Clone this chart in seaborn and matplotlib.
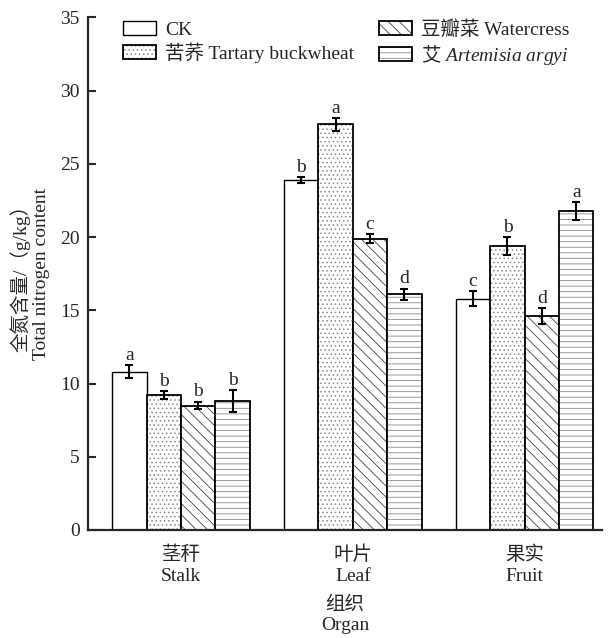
import matplotlib
matplotlib.use("Agg")
import matplotlib.pyplot as plt
from matplotlib.colors import to_rgba
import pandas as pd
import seaborn as sns

ORGANS_CN = ["茎秆", "叶片", "果实"]
ORGANS_EN = ["Stalk", "Leaf", "Fruit"]
TREATMENTS = ["CK", "苦荞 Tartary buckwheat", "豆瓣菜 Watercress",
              r"$\mathrm{艾}\ Artemisia\ argyi$"]

# mean total nitrogen (g/kg) per organ, one list per treatment
ck = [10.8, 23.9, 15.8]
buckwheat = [9.2, 27.7, 19.4]
watercress = [8.5, 19.9, 14.6]
artemisia = [8.8, 16.1, 21.8]

ck_err = [0.45, 0.2, 0.5]
buckwheat_err = [0.28, 0.42, 0.6]
watercress_err = [0.25, 0.28, 0.55]
artemisia_err = [0.75, 0.37, 0.6]

ck_sig = ["a", "b", "c"]
buckwheat_sig = ["b", "a", "b"]
watercress_sig = ["b", "c", "d"]
artemisia_sig = ["b", "d", "a"]

HATCHES = ["", "....", "\\\\\\", "---"]
HATCH_COLORS = ["black", "#8c8c8c", "#444444", "#8a8a8a"]


def build_frame():
    rows = []
    for name, vals in zip(TREATMENTS, [ck, buckwheat, watercress, artemisia]):
        for organ, v in zip(ORGANS_CN, vals):
            rows.append({"organ": organ, "treatment": name, "value": v})
    return pd.DataFrame(rows)


def main():
    sns.set_style("ticks")
    plt.rcParams["font.family"] = ["Liberation Serif", "Noto Sans CJK SC"]
    plt.rcParams["mathtext.fontset"] = "custom"
    plt.rcParams["mathtext.it"] = "Liberation Serif:italic"
    plt.rcParams["mathtext.rm"] = "Noto Sans CJK SC"
    plt.rcParams["hatch.linewidth"] = 0.6

    df = build_frame()
    fig = plt.figure(figsize=(6.09, 6.38), dpi=100)
    ax = fig.add_axes([0.1445, 0.1693, 0.844, 0.8033])

    sns.barplot(
        data=df,
        x="organ",
        y="value",
        hue="treatment",
        order=ORGANS_CN,
        hue_order=TREATMENTS,
        palette=["white"] * 4,
        saturation=1,
        errorbar=None,
        width=0.8,
        edgecolor="black",
        linewidth=1.3,
        legend=False,
        ax=ax,
    )

    errs = [ck_err, buckwheat_err, watercress_err, artemisia_err]
    sigs = [ck_sig, buckwheat_sig, watercress_sig, artemisia_sig]
    handles = []
    bar_groups = list(ax.containers)
    for i, cont in enumerate(bar_groups):
        xs, ys = [], []
        for p in cont.patches:
            p.set_hatch(HATCHES[i])
            if hasattr(p, "set_hatchcolor"):
                p.set_hatchcolor(HATCH_COLORS[i])
            p._hatch_color = to_rgba(HATCH_COLORS[i])
            if i == 0:
                p.set_linewidth(1.0)
            xs.append(p.get_x() + p.get_width() / 2)
            ys.append(p.get_height())
        handles.append(cont.patches[0])
        ax.errorbar(xs, ys, yerr=errs[i], fmt="none", ecolor="black",
                    elinewidth=1.5, capsize=3, capthick=1.5, zorder=5)
        for x, y, e, s in zip(xs, ys, errs[i], sigs[i]):
            ax.annotate(s, (x, y + e), xytext=(0, 1), textcoords="offset points",
                        ha="center", va="bottom", fontsize=14)

    ax.set_xlim(-0.541, 2.45)
    ax.set_ylim(0, 35)
    ax.set_yticks(range(0, 36, 5))
    ax.set_xticks(range(3))
    ax.set_xticklabels([f"{c}\n{e}" for c, e in zip(ORGANS_CN, ORGANS_EN)],
                       fontsize=14, linespacing=1.3)
    ax.tick_params(axis="x", length=0, pad=11)
    ax.tick_params(axis="y", direction="in", length=6, width=1.5, labelsize=14, pad=6)
    ax.set_xlabel("组织\nOrgan", fontsize=14, labelpad=8, linespacing=1.3)
    ax.set_ylabel("全氮含量/（g/kg）\nTotal nitrogen content", fontsize=14, labelpad=7)
    sns.despine(ax=ax)
    for side in ["left", "bottom"]:
        ax.spines[side].set_linewidth(1.6)

    ax.legend(
        handles=handles,
        labels=TREATMENTS,
        ncol=2,
        loc="upper left",
        bbox_to_anchor=(0.068, 0.994),
        frameon=False,
        fontsize=14,
        handlelength=1.7,
        handleheight=0.7,
        handletextpad=0.45,
        columnspacing=1.3,
        labelspacing=0.15,
        borderpad=0,
        borderaxespad=0,
    )

    fig.savefig("out.png", dpi=100)
    plt.close(fig)


if __name__ == "__main__":
    main()
